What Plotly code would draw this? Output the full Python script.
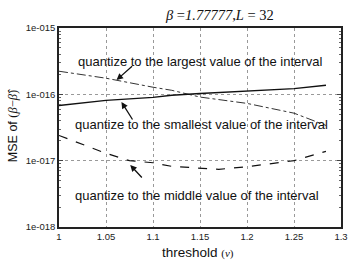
import plotly.graph_objects as go

x_largest = [1.0, 1.05, 1.1, 1.12, 1.15, 1.2, 1.25, 1.284]
y_largest = [2.23e-16, 1.75e-16, 1.28e-16, 1.15e-16, 0.91e-16, 0.73e-16, 0.52e-16, 0.34e-16]

x_smallest = [1.0, 1.05, 1.1, 1.12, 1.15, 1.2, 1.25, 1.284]
y_smallest = [0.68e-16, 0.81e-16, 0.9e-16, 0.97e-16, 1.03e-16, 1.12e-16, 1.22e-16, 1.37e-16]

x_middle = [1.0, 1.05, 1.075, 1.1, 1.12, 1.15, 1.17, 1.2, 1.25, 1.284]
y_middle = [2.4e-17, 1.29e-17, 1.0e-17, 0.93e-17, 0.82e-17, 0.76e-17, 0.74e-17, 0.81e-17, 1.0e-17, 1.38e-17]

x_ticks = [1, 1.05, 1.1, 1.15, 1.2, 1.25, 1.3]
x_ticklabels = ["1", "1.05", "1.1", "1.15", "1.2", "1.25", "1.3"]
y_ticks = [1e-18, 1e-17, 1e-16, 1e-15]
y_ticklabels = ["1e-018", "1e-017", "1e-016", "1e-015"]

minor_vals = []
for d in [1e-18, 1e-17, 1e-16]:
    for k in range(2, 10):
        minor_vals.append(k * d)

fig = go.Figure()
fig.add_trace(go.Scatter(x=x_largest, y=y_largest, mode="lines",
                         line=dict(color="#333333", width=1, dash="dashdot")))
fig.add_trace(go.Scatter(x=x_smallest, y=y_smallest, mode="lines",
                         line=dict(color="#111111", width=1.4)))
fig.add_trace(go.Scatter(x=x_middle, y=y_middle, mode="lines",
                         line=dict(color="#111111", width=1.2, dash="dash")))

W, H = 358, 263
L, R, T, B = 59, 10, 28, 36
pw, ph = W - L - R, H - T - B

def px2paper(px, py):
    return (px - L) / pw, 1 - (py - T) / ph

txt_font = dict(family="Liberation Sans, Arial", size=13, color="#111111")
labels = [
    ("quantize to the largest value of the interval", 203, 62),
    ("quantize to the smallest value of the interval", 205, 124),
    ("quantize to the middle value of the interval", 200, 195),
]
arrows = [(135, 65, 118, 80), (135, 121, 123, 102), (145, 179, 132, 165)]

annotations = []
for text, lx, ly in labels:
    annotations.append(dict(xref="paper", yref="paper", x=px2paper(lx, 0)[0], y=px2paper(0, ly)[1],
                            text=text, showarrow=False, xanchor="center", yanchor="middle",
                            font=txt_font))
for sx, sy, hx_, hy_ in arrows:
    hx, hy = px2paper(hx_, hy_)
    annotations.append(dict(xref="paper", yref="paper", x=hx, y=hy, text="",
                            showarrow=True, arrowhead=2, arrowsize=1, arrowwidth=1.3,
                            arrowcolor="#111111", ax=sx - hx_, ay=sy - hy_))

annotations.append(dict(xref="paper", yref="paper", x=px2paper(223, 0)[0], y=px2paper(0, 15)[1],
                        text="<i>β</i> =<i>1.77777</i>,<i>L</i> = 32", showarrow=False,
                        xanchor="center", yanchor="middle",
                        font=dict(family="Liberation Serif, Times New Roman", size=14.5, color="#111111")))
annotations.append(dict(xref="paper", yref="paper", x=px2paper(201, 0)[0], y=px2paper(0, 253)[1],
                        text="threshold <span style='font-family:Liberation Serif;font-size:11px'>(<i>ν</i>)</span>",
                        showarrow=False, xanchor="center", yanchor="middle",
                        font=dict(family="Liberation Sans, Arial", size=13.5, color="#111111")))
annotations.append(dict(xref="paper", yref="paper", x=px2paper(12, 0)[0], y=px2paper(0, 126)[1],
                        text="MSE of <span style='font-family:Liberation Serif'>(<i>β</i>−<i>β̂</i>)</span>",
                        showarrow=False, textangle=-90, xanchor="center", yanchor="middle",
                        font=dict(family="Liberation Sans, Arial", size=12.5, color="#111111")))

fig.update_layout(
    width=W, height=H,
    margin=dict(l=L, r=R, t=T, b=B),
    paper_bgcolor="white", plot_bgcolor="white",
    showlegend=False,
    annotations=annotations,
)
fig.update_xaxes(range=[1, 1.3], tickvals=x_ticks, ticktext=x_ticklabels,
                 showgrid=True, gridcolor="#999999", griddash="dot", gridwidth=1,
                 showline=True, linecolor="#222222", linewidth=1.5, mirror=True,
                 ticks="", tickfont=dict(family="Liberation Sans, Arial", size=9.5, color="#222222"),
                 zeroline=False)
fig.update_yaxes(type="log", range=[-18, -15], tickvals=y_ticks, ticktext=y_ticklabels,
                 showgrid=True, gridcolor="#999999", griddash="dot", gridwidth=1,
                 showline=True, linecolor="#222222", linewidth=1.5, mirror="allticks",
                 ticks="inside", ticklen=4, tickcolor="#444444",
                 minor=dict(tickvals=minor_vals, ticks="inside", ticklen=2, tickcolor="#666666", showgrid=False),
                 tickfont=dict(family="Liberation Sans, Arial", size=9.5, color="#222222"),
                 zeroline=False)

fig.write_html("out.html", config={"displayModeBar": False},
               post_script="document.body.style.margin='0';document.body.style.overflow='hidden';")
